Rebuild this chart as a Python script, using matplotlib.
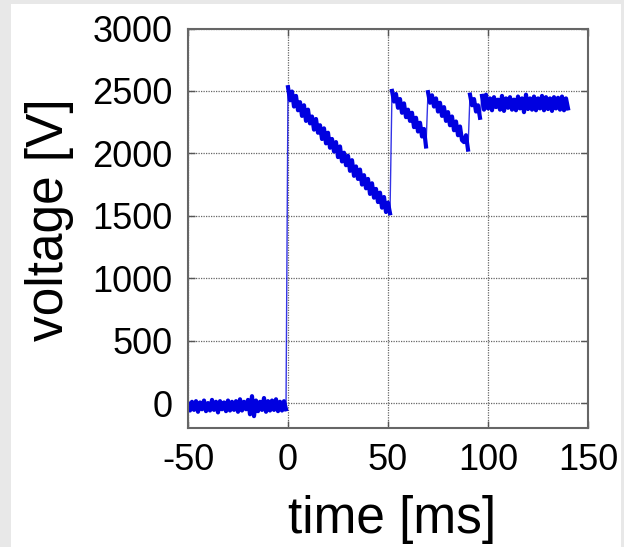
import matplotlib
matplotlib.use('Agg')
import matplotlib.pyplot as plt
import numpy as np
from matplotlib.patches import Rectangle

# capacitor voltage trace, sampled every 1 ms, split at the recharge steps
pre_trigger = [-5, -60, 10, -55, 15, -70, 5, -50, 20, -65,
               0, -60, 25, -55, 10, -75, 15, -50, 5, -65,
               20, -60, 10, -55, 15, -70, 30, -60, 10, -50,
               25, -90, 55, -105, 20, -65, 10, -55, 40, -70,
               15, -60, 20, -55, 30, -65, 10, -60, 15, -50]          # t = -50 .. -1
ramp1 = [2530, 2425, 2495, 2375, 2460, 2345, 2410, 2300, 2385, 2260,
         2350, 2240, 2295, 2190, 2275, 2165, 2225, 2115, 2200, 2080,
         2165, 2045, 2115, 2015, 2090, 1970, 2055, 1935, 2005, 1905,
         1980, 1860, 1945, 1820, 1895, 1795, 1870, 1750, 1825, 1720,
         1795, 1675, 1760, 1645, 1715, 1610, 1685, 1565, 1650, 1530,
         1605, 1520]                                                  # t = 0 .. 51
ramp2 = [2500, 2415, 2475, 2365, 2435, 2325, 2400, 2290, 2350, 2260,
         2325, 2210, 2285, 2175, 2245, 2135, 2195, 2055]              # t = 52 .. 69
ramp3 = [2490, 2405, 2465, 2375, 2440, 2335, 2405, 2300, 2370, 2260,
         2330, 2225, 2295, 2185, 2255, 2145, 2215, 2105, 2090, 2145,
         2030]                                                        # t = 70 .. 90
ramp4 = [2470, 2385, 2435, 2335, 2385, 2285]                          # t = 91 .. 96
plateau = [2460, 2350, 2470, 2360, 2440, 2345, 2450, 2370, 2430, 2350,
           2460, 2340, 2440, 2365, 2450, 2350, 2430, 2345, 2455, 2360,
           2440, 2330, 2470, 2355, 2440, 2350, 2455, 2345, 2440, 2360,
           2460, 2345, 2450, 2355, 2440, 2340, 2450, 2360, 2445, 2350,
           2455, 2345, 2440, 2360]                                    # t = 97 .. 140
segment_start = [-50, 0, 52, 70, 91, 97]

segments = [pre_trigger, ramp1, ramp2, ramp3, ramp4, plateau]

xticks = [-50, 0, 50, 100, 150]
yticks = [0, 500, 1000, 1500, 2000, 2500, 3000]

plt.rcParams['font.family'] = ['Liberation Sans', 'DejaVu Sans']

fig = plt.figure(figsize=(6.24, 5.47), dpi=100)
fig.patch.set_facecolor('#e8e8e8')
# white page inside the grey frame
fig.add_artist(Rectangle((11 / 624, 0), 610 / 624, 543 / 547,
                         transform=fig.transFigure, facecolor='white',
                         edgecolor='none', zorder=-10))

ax = fig.add_axes([188 / 624, 1 - 428 / 547, 400 / 624, 399.5 / 547])
ax.set_facecolor('none')

blue = '#0000e0'
prev = None
for t0, seg in zip(segment_start, segments):
    t = np.arange(t0, t0 + len(seg))
    ax.plot(t, seg, color=blue, linewidth=3.0)
    if prev is not None:
        # thin step where the capacitor is recharged
        ax.plot([prev[0], t[0]], [prev[1], seg[0]], color=blue,
                linewidth=1.0, alpha=0.8)
    prev = (t[-1], seg[-1])

ax.set_xlim(-50, 150)
ax.set_ylim(-200, 3000)
ax.set_xticks(xticks)
ax.set_yticks(yticks)
ax.set_xticklabels([str(v) for v in xticks])
ax.set_yticklabels([str(v) for v in yticks])
ax.tick_params(direction='in', length=5, width=1, color='#555555',
               labelsize=26, pad=11, top=True, right=True)
ax.grid(True, color='#666666', linestyle=(0, (1, 1)), linewidth=0.9)
ax.set_axisbelow(True)
for s in ax.spines.values():
    s.set_color('#666666')
    s.set_linewidth(1.5)

fig.text(50 / 624, 1 - 220 / 547, 'voltage [V]', rotation=90,
         ha='center', va='center', fontsize=37)
fig.text(392 / 624, 1 - 533 / 547, 'time [ms]', ha='center',
         va='baseline', fontsize=37)

fig.savefig('out.png', dpi=100)
